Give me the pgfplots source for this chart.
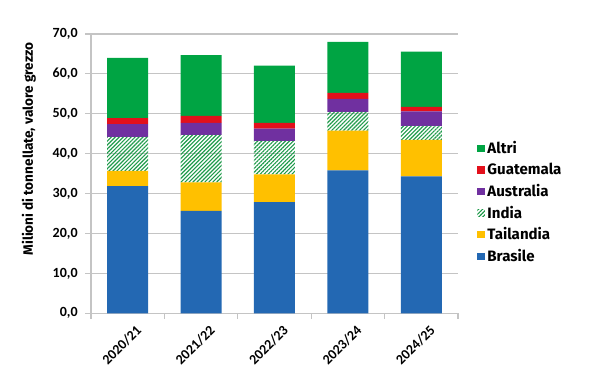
\documentclass[border=0pt]{standalone}
\usepackage{pgfplots}
\pgfplotsset{compat=1.18}
\usetikzlibrary{patterns.meta}
\usepackage{fontspec}
\setmainfont{Carlito}
\newfontfamily\fira{Fira Sans}
\definecolor{cBlue}{HTML}{2368B3}
\definecolor{cYellow}{HTML}{FFC000}
\definecolor{cIndia}{HTML}{1E9A4A}
\definecolor{cPurple}{HTML}{7030A0}
\definecolor{cRed}{HTML}{E3101B}
\definecolor{cGreen}{HTML}{00A443}
\definecolor{cGrid}{HTML}{C4C4C4}
\begin{document}
\begin{tikzpicture}[x=1pt,y=1pt]
\path[use as bounding box] (0,0) rectangle (444.75,284.25);
\begin{axis}[
  at={(68.25pt,49.25pt)}, anchor=south west,
  scale only axis, width=275.25pt, height=209.5pt,
  ybar stacked, bar width=30.75pt,
  xmin=-0.5, xmax=4.5, ymin=0, ymax=70,
  ytick={0,10,...,70},
  xtick={0,1,2,3,4},
  xticklabels={2020/21,2021/22,2022/23,2023/24,2024/25},
  minor xtick={-0.5,0.5,1.5,2.5,3.5,4.5},
  major x tick style={draw=none},
  minor x tick style={cGrid, line width=0.8pt},
  major y tick style={cGrid, line width=0.8pt},
  tick align=outside,
  major tick length=4.5pt, minor tick length=4pt,
  axis x line*=bottom, axis y line*=left,
  axis line style={cGrid, line width=0.8pt, -},
  ymajorgrids, major grid style={cGrid, line width=0.8pt},
  /pgf/number format/.cd, fixed, fixed zerofill, precision=1, use comma, assume math mode=true,
  /pgfplots/.cd,
  yticklabel style={font=\bfseries\fontsize{10.5}{12}\selectfont, xshift=-2pt},
  xticklabel style={font=\bfseries\fontsize{10.5}{12}\selectfont, rotate=45, anchor=north east, xshift=5pt, yshift=-3pt},
  ylabel={Milioni di tonnellate, valore grezzo},
  ylabel style={at={(rel axis cs:-0.169,0.588)}, anchor=center, font=\fira\fontsize{10.2}{12}\selectfont\bfseries},
  legend image code/.code={\fill[#1] (0pt,-2.8pt) rectangle (5.6pt,2.8pt);},
  reverse legend,
  legend cell align=left,
  legend style={at={(1.041,0.635)}, anchor=north west, draw=none, fill=none,
    font=\fira\fontsize{11.3}{13}\selectfont\bfseries, row sep=1.6pt,
    /tikz/every odd column/.append style={column sep=0pt}},
]
\addplot[fill=cBlue, draw=none] coordinates {(0,31.9) (1,25.7) (2,27.9) (3,35.8) (4,34.3)};
\addlegendentry{Brasile}
\addplot[fill=cYellow, draw=none] coordinates {(0,3.8) (1,7.1) (2,6.9) (3,10.0) (4,9.2)};
\addlegendentry{Tailandia}
\addplot[pattern={Lines[angle=45,distance=2.1pt,line width=0.85pt]}, pattern color=cIndia, draw=none] coordinates {(0,8.5) (1,11.9) (2,8.4) (3,4.7) (4,3.5)};
\addlegendentry{India}
\addplot[fill=cPurple, draw=none] coordinates {(0,3.2) (1,3.0) (2,3.1) (3,3.25) (4,3.6)};
\addlegendentry{Australia}
\addplot[fill=cRed, draw=none] coordinates {(0,1.5) (1,1.8) (2,1.4) (3,1.5) (4,1.15)};
\addlegendentry{Guatemala}
\addplot[fill=cGreen, draw=none] coordinates {(0,15.1) (1,15.2) (2,14.4) (3,12.75) (4,13.85)};
\addlegendentry{Altri}
\end{axis}
\end{tikzpicture}
\end{document}
